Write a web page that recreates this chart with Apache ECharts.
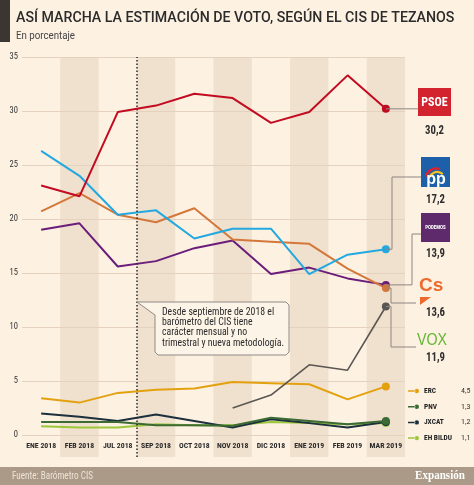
<!DOCTYPE html>
<html><head><meta charset="utf-8">
<script src="https://cdn.jsdelivr.net/npm/echarts@6/dist/echarts.min.js"></script>
<style>html,body{margin:0;padding:0;background:#fdf1e2}#c{width:474px;height:485px}</style>
</head><body><div id="c"></div>
<script>
// ---- data ----
const categories = ['ENE 2018','FEB 2018','JUL 2018','SEP 2018','OCT 2018','NOV 2018','DIC 2018','ENE 2019','FEB 2019','MAR 2019'];
const yMin = 0, yMax = 35, yStep = 5;
const psoe    = [23.1, 22.1, 29.9, 30.5, 31.6, 31.2, 28.9, 29.9, 33.3, 30.2];
const pp      = [26.3, 24.0, 20.4, 20.8, 18.2, 19.1, 19.1, 14.9, 16.7, 17.2];
const cs      = [20.7, 22.4, 20.4, 19.7, 21.0, 18.1, 17.9, 17.7, 15.4, 13.6];
const podemos = [19.0, 19.6, 15.6, 16.1, 17.3, 18.0, 14.9, 15.5, 14.5, 13.9];
const vox     = [null, null, null, null, null, 2.5, 3.7, 6.5, 6.0, 11.9];
const erc     = [3.4, 3.0, 3.9, 4.2, 4.3, 4.9, 4.8, 4.7, 3.3, 4.5];
const pnv     = [1.2, 1.2, 1.2, 0.9, 0.9, 0.85, 1.6, 1.3, 1.0, 1.3];
const jxcat   = [2.0, 1.7, 1.3, 1.9, 1.3, 0.7, 1.45, 1.1, 0.7, 1.2];
const bildu   = [0.8, 0.7, 0.7, 1.0, 0.9, 0.9, 1.2, 1.1, 1.0, 1.1];
const methodChangeAfterIndex = 2; // divider between JUL 2018 and SEP 2018
const noteLines = ['Desde septiembre de 2018 el', 'barómetro del CIS tiene', 'carácter mensual y no', 'trimestral y nueva metodología.'];

// ---- font helpers ----
const ctx = document.createElement('canvas').getContext('2d');
function textW(t, font) { ctx.font = font; return ctx.measureText(t).width; }
function hasFont(f) {
  const s = 'ENE 2018 mmmwwwiiilll';
  return textW(s, 'bold 20px monospace') !== textW(s, 'bold 20px "' + f + '", monospace') ||
         textW(s, 'bold 20px serif') !== textW(s, 'bold 20px "' + f + '", serif');
}
const narrowCands = ['Liberation Sans Narrow', 'Roboto Condensed', 'Noto Sans Condensed', 'Open Sans Condensed', 'DejaVu Sans Condensed', 'Arial Narrow'];
const NFAM = narrowCands.find(hasFont) || 'Liberation Sans';
const NARROW = '"' + NFAM + '","Liberation Sans",sans-serif';

// ---- styling ----
const BG = '#fdf1e2', BAND = '#f0e0ce';
const COL = {PSOE:'#c20b20', PP:'#23a8e0', Cs:'#d3783a', Podemos:'#6a1d7a', VOX:'#5a5652',
             ERC:'#e3a10f', PNV:'#3b6a34', JXCAT:'#1c2f3d', 'EH BILDU':'#9cc73a'};
const last = a => a[a.length - 1];
const fmt = v => v.toFixed(1).replace('.', ',');

function line(name, data, width, z) {
  const n = data.length - 1;
  return {
    name, type: 'line', data, xAxisIndex: 0, yAxisIndex: 0, z,
    color: COL[name], lineStyle: {width, color: COL[name]}, itemStyle: {color: COL[name]},
    symbol: 'circle', showSymbol: true, showAllSymbol: true,
    symbolSize: (v, p) => p.dataIndex === n ? 8 : 0,
    connectNulls: false, animation: false, silent: true, emphasis: {disabled: true}
  };
}

const chart = echarts.init(document.getElementById('c'), null, {renderer: 'canvas'});
const legendNames = ['ERC', 'PNV', 'JXCAT', 'EH BILDU'];
const legendVals = {ERC: erc, PNV: pnv, JXCAT: jxcat, 'EH BILDU': bildu};

const option = {
  backgroundColor: BG,
  animation: false,
  grid: [
    {left: 22, right: 69, top: 57, bottom: 50},
    {left: 22, right: 69, top: 57, bottom: 28}
  ],
  xAxis: [
    {type: 'category', gridIndex: 0, data: categories, boundaryGap: true,
     axisLine: {show: false}, axisTick: {show: false}, splitLine: {show: false},
     axisLabel: {interval: 0, margin: 7, fontFamily: NARROW, fontWeight: 'bold', fontSize: 7.8, color: '#2a2a2a'}},
    {type: 'category', gridIndex: 1, data: categories, boundaryGap: true, show: false},
    {type: 'value', gridIndex: 1, min: -0.5, max: categories.length - 0.5, show: false}
  ],
  yAxis: [
    {type: 'value', gridIndex: 0, min: yMin, max: yMax, interval: yStep, z: 1,
     axisLine: {show: false}, axisTick: {show: false},
     axisLabel: {margin: 4, fontFamily: NARROW, fontSize: 8.5, color: '#333'},
     splitLine: {lineStyle: {color: '#e4d2be', width: 1}}},
    {type: 'value', gridIndex: 1, min: 0, max: 1, show: false}
  ],
  legend: {
    data: legendNames, orient: 'vertical', left: 408, top: 385, padding: 0,
    itemWidth: 11, itemHeight: 6, itemGap: 3.7, selectedMode: false,
    icon: 'path://M0,4L10,4L10,6L0,6Z M9,5a3,3 0 1 0 6,0a3,3 0 1 0 -6,0Z',
    formatter: name => `{n|${name}}{v|${fmt(last(legendVals[name]))}}`,
    textStyle: {
      lineHeight: 12,
      rich: {
        n: {width: 37, fontFamily: NARROW, fontWeight: 'bold', fontSize: 7.4, color: '#222'},
        v: {fontFamily: NARROW, fontSize: 8, color: '#333'}
      }
    }
  },
  series: [
    {name: 'bands', type: 'bar', xAxisIndex: 1, yAxisIndex: 1, z: 0, silent: true,
     data: categories.map((c, i) => i % 2), barWidth: '100%', barGap: '-100%',
     itemStyle: {color: BAND}},
    {name: 'divider', type: 'line', xAxisIndex: 2, yAxisIndex: 1, data: [], z: 5, silent: true,
     markLine: {silent: true, symbol: 'none', label: {show: false}, animation: false,
       lineStyle: {type: [1.5, 2], color: '#2a2a2a', width: 1.5},
       data: [{xAxis: methodChangeAfterIndex + 0.5}]}},
    line('EH BILDU', bildu, 2, 3),
    line('JXCAT', jxcat, 2, 3),
    line('PNV', pnv, 2, 3),
    line('ERC', erc, 2, 3),
    line('VOX', vox, 1.6, 3),
    line('Podemos', podemos, 2, 4),
    line('Cs', cs, 2, 4),
    line('PP', pp, 2, 4),
    line('PSOE', psoe, 2, 5)
  ],
  graphic: []
};
chart.setOption(option);

// ---- decorations (title, note, logos, connectors) ----
// text squeezed horizontally to the width measured in the reference
function T(x, y, text, font, fill, align, targetW, z, extra) {
  const lines = text.split('\n');
  const w = Math.max(...lines.map(l => textW(l, font)));
  const s = targetW ? Math.min(1, targetW / w) : 1;
  return Object.assign({type: 'text', x, y, z: z || 20, scaleX: s,
    style: Object.assign({text, font, fill, align: align || 'left', verticalAlign: 'middle'}, extra || {})});
}
const px = v => chart.convertToPixel({xAxisIndex: 0, yAxisIndex: 0}, [categories.length - 1, v]);
const pPSOE = px(last(psoe)), pPP = px(last(pp)), pPOD = px(last(podemos)), pCS = px(last(cs)), pVOX = px(last(vox));
const conn = pts => ({type: 'polyline', z: 10, shape: {points: pts}, style: {stroke: '#8d8681', lineWidth: 1, fill: null}, silent: true});
const valText = (x, y, t) => T(x, y, t, 'bold 13px ' + NARROW, '#2e2e2e', 'center', 19);

const g = [
  {type: 'rect', shape: {x: 0, y: 0, width: 10, height: 42}, style: {fill: '#3b3631'}},
  T(16, 18.5, 'ASÍ MARCHA LA ESTIMACIÓN DE VOTO, SEGÚN EL CIS DE TEZANOS', '500 14.2px Roboto', '#2b2b2b', 'left', 439),
  T(16, 36, 'En porcentaje', '10px Roboto', '#444', 'left', 59),
  {type: 'rect', shape: {x: 0, y: 467, width: 474, height: 18}, style: {fill: '#ab9a87'}},
  T(12, 476.5, 'Fuente: Barómetro CIS', '10.5px ' + NARROW, '#ede3d7', 'left', 81),
  T(465, 476, 'Expansión', 'bold 13px "Liberation Serif",serif', '#ffffff', 'right', 50),
  // note callout
  {type: 'polygon', z: 15, shape: {points: [[137, 302], [286, 302], [289, 305], [289, 352], [286, 355], [158, 355], [155, 352], [155, 315]]},
   style: {fill: '#fdf4e8', stroke: '#8f8a86', lineWidth: 1}},
  T(162, 307, noteLines.join('\n'), '10.5px ' + NARROW, '#2b2b2b', 'left', 122, 16, {lineHeight: 10.3, verticalAlign: 'top'}),
  // connectors
  conn([[pPSOE[0], pPSOE[1]], [418, pPSOE[1]]]),
  conn([[pPP[0], pPP[1]], [392, pPP[1]], [392, 177], [421, 177]]),
  conn([[pPOD[0], pPOD[1]], [412, pPOD[1]], [412, 234], [421, 234]]),
  conn([[pCS[0], pCS[1]], [391, pCS[1]], [391, 303], [416, 303]]),
  conn([[pVOX[0], pVOX[1]], [391, pVOX[1]], [391, 347], [416, 347]]),
  // PSOE logo
  {type: 'rect', z: 20, shape: {x: 418, y: 88, width: 33, height: 28}, style: {fill: '#d2232f'}},
  T(434.5, 103, 'PSOE', 'bold 12px ' + NARROW, '#fff', 'center', 27, 21),
  valText(434.5, 131, fmt(last(psoe))),
  // PP logo
  {type: 'rect', z: 20, shape: {x: 421, y: 157, width: 29, height: 30}, style: {fill: '#1d5fa9'}},
  {type: 'arc', z: 21, shape: {cx: 436, cy: 179, r: 10.5, startAngle: Math.PI * 1.08, endAngle: Math.PI * 1.62}, style: {stroke: '#e4202a', lineWidth: 2.2, fill: null}},
  {type: 'arc', z: 21, shape: {cx: 437, cy: 180, r: 8, startAngle: Math.PI * 1.12, endAngle: Math.PI * 1.75}, style: {stroke: '#f6c21a', lineWidth: 2.2, fill: null}},
  T(436, 179.5, 'pp', 'bold 16px "Liberation Sans",sans-serif', '#fff', 'center', 0, 22),
  valText(435.5, 200, fmt(last(pp))),
  // Podemos logo
  {type: 'rect', z: 20, shape: {x: 421, y: 213, width: 29, height: 29}, style: {fill: '#5e2a6c'}},
  T(435.5, 227.5, 'PODEMOS', 'bold 5px ' + NARROW, '#fff', 'center', 22, 21),
  valText(435.5, 253.5, fmt(last(podemos))),
  // Cs logo
  T(419, 286, 'Cs', 'bold 19px "Liberation Sans",sans-serif', '#ee6a2c', 'left', 26, 21),
  {type: 'polygon', z: 21, shape: {points: [[420, 297], [431, 297], [420, 305]]}, style: {fill: '#ee6a2c'}},
  valText(435.5, 312.5, fmt(last(cs))),
  // VOX logo
  T(432, 340, 'VOX', '17px "Liberation Sans",sans-serif', '#62b62f', 'center', 30, 21),
  valText(435.5, 357.5, fmt(last(vox)))
];
chart.setOption({graphic: g});
</script>
</body></html>
